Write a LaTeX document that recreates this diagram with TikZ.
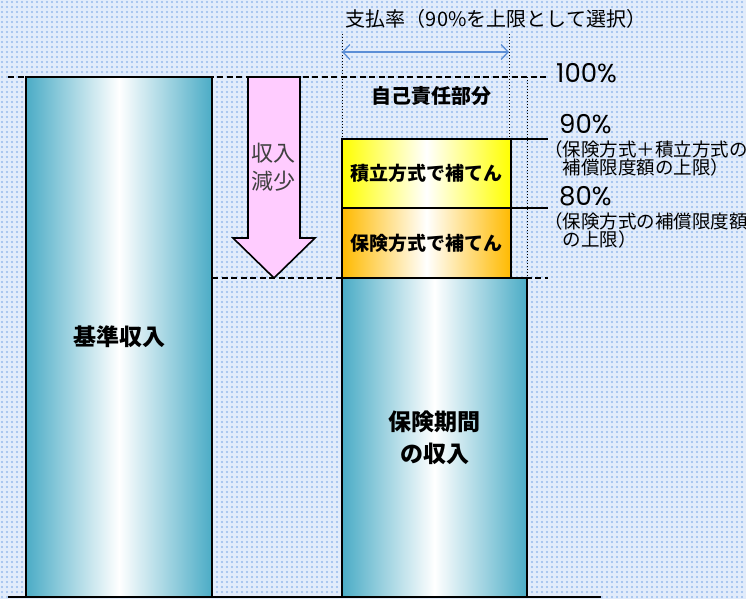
\documentclass[tikz,border=0pt]{standalone}
\usepackage{fontspec}
\setmainfont{Noto Sans CJK JP}
\newfontfamily\pctfont{Poppins}
\usetikzlibrary{arrows.meta,patterns.meta}

\definecolor{barteal}{RGB}{75,172,198}
\definecolor{fundyellow}{RGB}{255,255,0}
\definecolor{insorange}{RGB}{255,186,0}
\definecolor{droppink}{RGB}{255,204,255}
\definecolor{rateblue}{RGB}{91,142,214}
\definecolor{bgblue}{RGB}{226,236,251}
\definecolor{dotblue}{RGB}{150,186,236}

\tikzdeclarepattern{
  name=bgdots,
  type=uncolored,
  bounding box={(0pt,0pt) and (4.5pt,4.5pt)},
  tile size={(4.5pt,4.5pt)},
  code={\fill (2.25pt,2.25pt) circle (1.2pt);}
}

\begin{document}
\begin{tikzpicture}[
    x=1pt, y=-1pt,
    bar/.style={draw, line width=2pt, inner sep=0pt, outer sep=0pt, anchor=north west, align=center, left color=barteal, right color=barteal, middle color=white, font=\fontsize{23}{32}\selectfont\bfseries},
    fund/.style={draw, line width=2pt, inner sep=0pt, outer sep=0pt, anchor=north west, minimum width=169pt, font=\fontsize{19}{19}\selectfont\bfseries},
    guide/.style={line width=1.6pt, dash pattern=on 6pt off 3.5pt},
    limit/.style={dash pattern=on 1pt off 2pt, line width=1pt},
    tick/.style={line width=2pt},
    pct/.style={anchor=west, inner sep=0pt, text height=0.7em, text depth=0pt, font=\pctfont\fontsize{26}{26}\selectfont},
    note/.style={anchor=north west, inner sep=0pt, align=left, font=\fontsize{18.5}{18.5}\selectfont}
]

% Background
\fill[bgblue] (0,0) rectangle (746,599);
\fill[pattern=bgdots, pattern color=dotblue] (0,0) rectangle (746,599);
\useasboundingbox (0,0) rectangle (746,599);

% Guide coordinates
\coordinate (full L) at (8,77);
\coordinate (full R) at (548,77);
\coordinate (cut L) at (212,278);
\coordinate (cut R) at (548,278);
\coordinate (rate L) at (342,52);
\coordinate (rate R) at (509,52);

% Dashed levels
\draw[guide] (full L) -- (full R);
\draw[guide] (cut L) -- (cut R);

% Bars
\node[bar, minimum width=186pt, minimum height=520pt] (base) at (26,77) {基準収入};
\node[bar, minimum width=185pt, minimum height=319pt] (period) at (342,278) {保険期間\\の収入};
\node[fund, minimum height=70pt, left color=insorange, right color=insorange, middle color=white] (insure) at (342,208) {保険方式で補てん};
\node[fund, minimum height=69pt, left color=fundyellow, right color=fundyellow, middle color=white] (reserve) at (342,139) {積立方式で補てん};

% Income drop arrow
\draw[line width=1.6pt, fill=droppink] (248,77) -- (300,77) -- (300,238) -- (315,238) -- (274,278) -- (233,238) -- (248,238) -- cycle;
\node[align=center, text=black!75, font=\fontsize{22}{28}\selectfont] (drop) at (273,167) {収入\\減少};

% Payment rate
\draw[limit] (342,34) -- (reserve.north west);
\draw[limit] (509,34) -- (509,139);
\draw[limit] (527,77) -- (period.north east);
\draw[{Straight Barb[length=7pt, width=15pt]}-{Straight Barb[length=7pt, width=15pt]}, rateblue, line width=1.3pt] (rate L) -- (rate R);
\node[font=\fontsize{20}{20}\selectfont] (rate) at (496,19) {支払率（90\%を上限として選択）};
\node[font=\fontsize{20}{20}\selectfont\bfseries] (self) at (431,96) {自己責任部分};

% Limit marks
\draw[tick] (reserve.north east) -- (548,139);
\draw[tick] (insure.north east) -- (548,208);
\node[pct] (p100) at (556,79) {100\%};
\node[pct] (p90) at (559,130) {90\%};
\node[note] (n90) at (544,140) {（保険方式＋積立方式の\\\phantom{（}補償限度額の上限）};
\node[pct] (p80) at (559,202) {80\%};
\node[note] (n80) at (544,212) {（保険方式の補償限度額\\\phantom{（}の上限）};

% Ground line
\draw[line width=2pt] (8,597) -- (601,597);

\end{tikzpicture}
\end{document}
